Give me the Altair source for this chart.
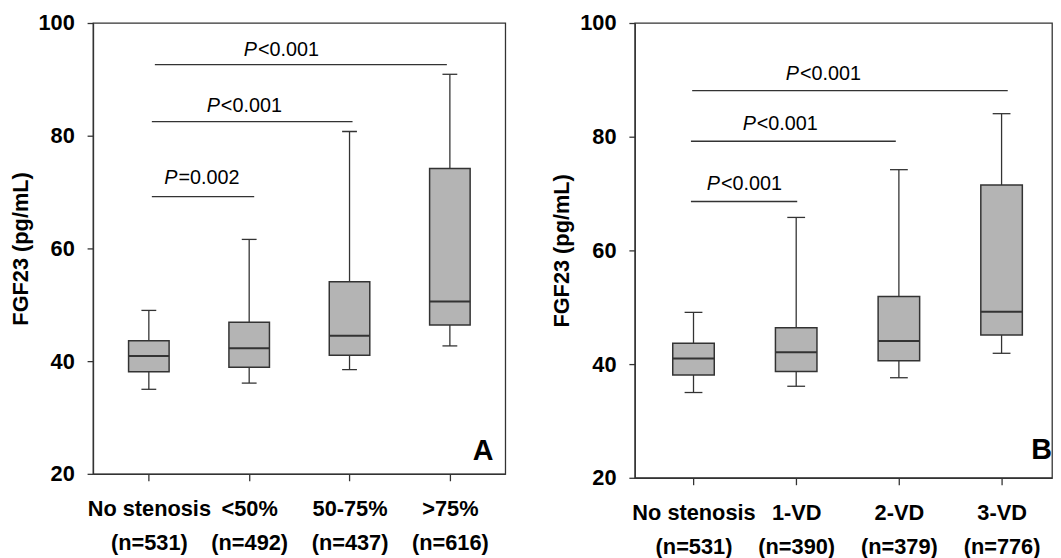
import altair as alt
import pandas as pd

# ---------------- data ----------------
cats_a = ["No stenosis", "<50%", "50-75%", ">75%"]
n_a = [531, 492, 437, 616]
wlo_a = [35.0, 36.1, 38.5, 42.7]
q1_a = [38.1, 38.9, 41.05, 46.4]
med_a = [40.9, 42.3, 44.5, 50.6]
q3_a = [43.6, 46.9, 54.1, 74.2]
whi_a = [49.0, 61.6, 80.75, 90.9]

cats_b = ["No stenosis", "1-VD", "2-VD", "3-VD"]
n_b = [531, 390, 379, 776]
wlo_b = [35.0, 36.1, 37.6, 41.9]
q1_b = [38.1, 38.7, 40.6, 45.1]
med_b = [41.0, 42.1, 44.05, 49.2]
q3_b = [43.65, 46.4, 51.9, 71.5]
whi_b = [49.1, 65.8, 74.2, 84.05]

# significance brackets (x in category units, y in pg/mL)
ann_x1_a = [1.03, 1.03, 1.06]
ann_x2_a = [2.05, 3.03, 3.97]
ann_y_a = [69.2, 82.5, 92.6]
ann_ty_a = [71.4, 84.2, 94.2]
ann_jx_a = [1.285, 1.708, 2.077]
ann_txt_a = ["=0.002", "<0.001", "<0.001"]

ann_x1_b = [0.975, 0.975, 0.987]
ann_x2_b = [2.01, 2.97, 4.06]
ann_y_b = [68.6, 79.2, 88.1]
ann_ty_b = [70.7, 81.2, 90.0]
ann_jx_b = [1.257, 1.607, 2.027]
ann_txt_b = ["<0.001", "<0.001", "<0.001"]

y_ticks = [20, 40, 60, 80, 100]

FONT = "Liberation Sans"
BOX_FILL = "#b4b4b4"
DARK = "#333333"


def panel(cats, ns, wlo, q1, med, q3, whi, ax1, ax2, ay, aty, ajx, atxt,
          letter, domain_x, width, height, letter_x, letter_y, box_w, cap_w):
    pos = list(range(1, len(cats) + 1))
    box = pd.DataFrame(dict(pos=pos, wlo=wlo, q1=q1, med=med, q3=q3, whi=whi))
    ann = pd.DataFrame(dict(x1=ax1, x2=ax2, y=ay, ty=aty, jx=ajx, txt=atxt,
                            p=["P"] * len(ax1)))
    let = pd.DataFrame(dict(letter=[letter]))

    expr = " : ".join(
        f"datum.value == {p} ? ['{c}', '(n={n})']" for p, c, n in zip(pos, cats, ns)
    ) + " : ''"

    x = alt.X("pos:Q",
              scale=alt.Scale(domain=domain_x, nice=False, zero=False),
              axis=alt.Axis(values=pos, labelExpr=expr, labelLineHeight=35,
                            labelPadding=18, tickSize=7, labelAngle=0,
                            labelOverlap=False, labelFlush=False,
                            labelBaseline="top", grid=False),
              title=None)
    yscale = alt.Scale(domain=[20, 100], nice=False, zero=False)
    yaxis = alt.Axis(values=y_ticks, tickSize=6, labelPadding=13, grid=False,
                     labelFlush=False, title="FGF23 (pg/mL)", titlePadding=6)

    base = alt.Chart(box)
    wl = base.mark_rule(color=DARK, strokeWidth=1.3).encode(
        x=x, y=alt.Y("wlo:Q", scale=yscale, axis=yaxis), y2="q1:Q")
    wh = base.mark_rule(color=DARK, strokeWidth=1.3).encode(
        x=x, y=alt.Y("q3:Q", scale=yscale, axis=yaxis), y2="whi:Q")
    cl = base.mark_tick(orient="horizontal", size=cap_w, thickness=1.3,
                        color=DARK, opacity=1).encode(
        x=x, y=alt.Y("wlo:Q", scale=yscale, axis=yaxis))
    ch = base.mark_tick(orient="horizontal", size=cap_w, thickness=1.3,
                        color=DARK, opacity=1).encode(
        x=x, y=alt.Y("whi:Q", scale=yscale, axis=yaxis))
    bx = base.mark_bar(size=box_w, fill=BOX_FILL, stroke=DARK,
                       strokeWidth=1.5, opacity=1).encode(
        x=x, y=alt.Y("q1:Q", scale=yscale, axis=yaxis), y2="q3:Q")
    md = base.mark_tick(orient="horizontal", size=box_w, thickness=2,
                        color=DARK, opacity=1).encode(
        x=x, y=alt.Y("med:Q", scale=yscale, axis=yaxis))

    abase = alt.Chart(ann)
    ar = abase.mark_rule(color=DARK, strokeWidth=1.3).encode(
        x=alt.X("x1:Q", scale=alt.Scale(domain=domain_x, nice=False, zero=False)),
        x2="x2:Q",
        y=alt.Y("y:Q", scale=yscale))
    tp = abase.mark_text(font=FONT, fontSize=20, fontStyle="italic",
                         align="right", baseline="alphabetic",
                         color="black").encode(
        x=alt.X("jx:Q"), y=alt.Y("ty:Q"), text="p:N")
    tr = abase.mark_text(font=FONT, fontSize=20, align="left",
                         baseline="alphabetic", color="black", dx=1).encode(
        x=alt.X("jx:Q"), y=alt.Y("ty:Q"), text="txt:N")

    lt = alt.Chart(let).mark_text(font=FONT, fontSize=29, fontWeight="bold",
                                  align="left", baseline="bottom",
                                  color="black").encode(
        x=alt.value(letter_x), y=alt.value(letter_y), text="letter:N")

    return alt.layer(wl, wh, cl, ch, bx, md, ar, tp, tr, lt).properties(
        width=width, height=height)


pa = panel(cats_a, n_a, wlo_a, q1_a, med_a, q3_a, whi_a,
           ann_x1_a, ann_x2_a, ann_y_a, ann_ty_a, ann_jx_a, ann_txt_a,
           "A", [0.493, 4.503], 417, 456, 384, 448, 41, 15)
pb = panel(cats_b, n_b, wlo_b, q1_b, med_b, q3_b, whi_b,
           ann_x1_b, ann_x2_b, ann_y_b, ann_ty_b, ann_jx_b, ann_txt_b,
           "B", [0.4765, 4.443], 422, 460, 401, 447, 42, 18)

chart = alt.hconcat(pa, pb, spacing=44).properties(
    padding={"left": 0, "top": 0, "right": 0, "bottom": 0},
    background="white"
).configure_view(
    stroke=DARK, strokeWidth=1.3
).configure_axis(
    labelFont=FONT, labelFontSize=22, labelFontWeight="bold", labelColor="black",
    titleFont=FONT, titleFontSize=22, titleFontWeight="bold", titleColor="black",
    domainColor=DARK, tickColor=DARK, domainWidth=1.3, tickWidth=1.3, grid=False
)

chart.save("out.html", embed_options={"renderer": "svg", "actions": False})
